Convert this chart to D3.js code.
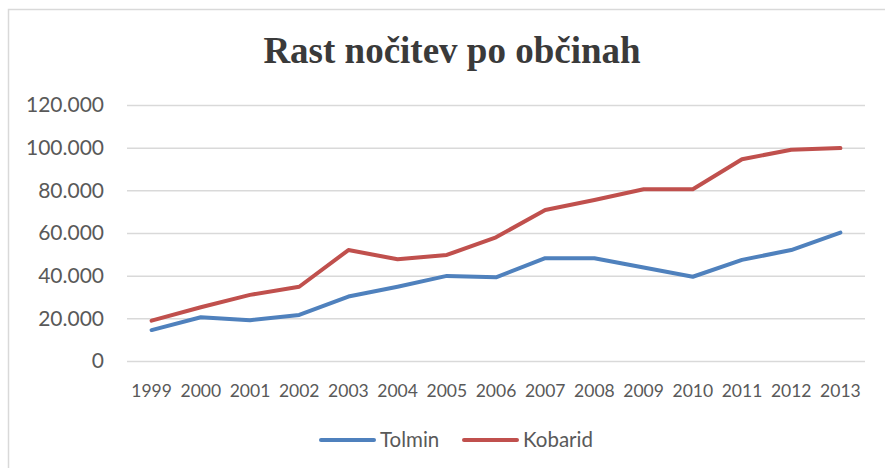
<!DOCTYPE html>
<html>
<head>
    <meta charset="utf-8">
    <title>Rast nočitev po občinah</title>
    <script src="https://cdnjs.cloudflare.com/ajax/libs/d3/7.8.5/d3.min.js"></script>
    <style>
        html, body { margin: 0; background: #fff; overflow: hidden; }
        svg { display: block; }
        text { font-family: Lato, "Liberation Sans", sans-serif; fill: #595959; }
    </style>
</head>
<body>
    <svg id="chart" width="885" height="468"></svg>
    <script>
        // data
        var years = ["1999", "2000", "2001", "2002", "2003", "2004", "2005", "2006",
                     "2007", "2008", "2009", "2010", "2011", "2012", "2013"]
        var tolmin = [14500, 20500, 19100, 21600, 30200, 34800, 39900, 39200,
                      48200, 48200, 43800, 39500, 47400, 52000, 60200]
        var kobarid = [18900, 25200, 31000, 34800, 52000, 47700, 49700, 58000,
                       70800, 75500, 80500, 80500, 94600, 99000, 99800]
        var yTicks = [0, 20000, 40000, 60000, 80000, 100000, 120000]
        var seriesNames = ["Tolmin", "Kobarid"]
        var colors = ["#4f81bd", "#c0504d"]

        var svg = d3.select("#chart")

        // chart frame: only the top and left edges are in view
        svg.append("path")
            .attr("d", "M8.5,468V9.5H885")
            .style("fill", "none")
            .style("stroke", "#d9d9d9")
            .style("stroke-width", "1.5px")

        svg.append("text")
            .attr("x", 452).attr("y", 63)
            .style("text-anchor", "middle")
            .style("font-family", "'Liberation Serif', 'DejaVu Serif', serif")
            .style("font-weight", "bold")
            .style("font-size", "37px")
            .style("fill", "#3a3a3a")
            .text("Rast nočitev po občinah")

        var x = d3.scaleBand().domain(years).range([127, 865])
        var y = d3.scaleLinear().domain([0, 120000]).range([361, 105])

        var fmt = d => d === 0 ? "0" : d3.format(",")(d).replace(/,/g, ".")

        svg.append("g")
            .attr("transform", "translate(127,0)")
            .call(d3.axisLeft(y).tickValues(yTicks).tickSize(-738).tickFormat(fmt).tickPadding(23))
            .call(g => g.select(".domain").remove())
            .call(g => g.selectAll("line").style("stroke", "#d9d9d9").style("stroke-width", "1.5px"))
            .call(g => g.selectAll("text").style("font-size", "21px").style("fill", "#595959").style("font-family", null))

        svg.append("g")
            .attr("transform", "translate(0,361)")
            .call(d3.axisBottom(x).tickSize(0).tickPadding(24))
            .call(g => g.select(".domain").remove())
            .call(g => g.selectAll("text").style("font-size", "17.5px").style("fill", "#595959").style("font-family", null))

        var line = d3.line()
            .x((d, i) => x(years[i]) + x.bandwidth() / 2)
            .y(d => y(d))

        svg.selectAll("path.series")
            .data([tolmin, kobarid])
            .enter().append("path")
            .attr("class", "series")
            .attr("d", line)
            .style("fill", "none")
            .style("stroke", (d, i) => colors[i])
            .style("stroke-width", "4px")
            .style("stroke-linejoin", "round")
            .style("stroke-linecap", "round")

        var legend = svg.selectAll("g.legend")
            .data(seriesNames)
            .enter().append("g")
            .attr("class", "legend")
            .attr("transform", (d, i) => `translate(${[321, 464][i]},440)`)

        legend.append("line")
            .attr("x1", 0).attr("x2", 53)
            .style("stroke", (d, i) => colors[i])
            .style("stroke-width", "4px")
            .style("stroke-linecap", "round")

        legend.append("text")
            .attr("x", 59).attr("y", 7)
            .style("font-size", "20.5px")
            .text(d => d)
    </script>
</body>
</html>
